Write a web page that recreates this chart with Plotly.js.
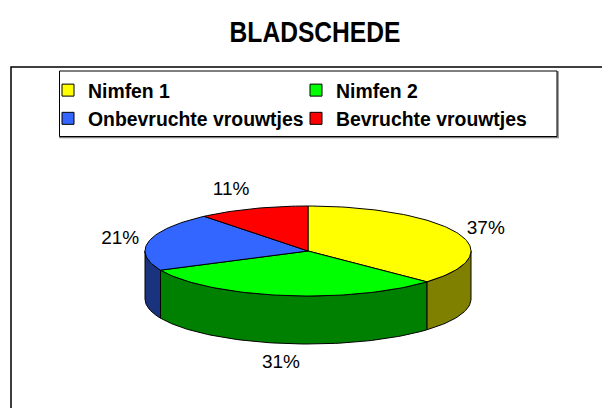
<!DOCTYPE html>
<html><head><meta charset="utf-8">
<script src="https://cdn.plot.ly/plotly-3.0.1.min.js"></script>
<style>
html,body{margin:0;padding:0;background:#fff}
.gtitle{transform-box:fill-box;transform-origin:center;transform:scaleX(0.82);}
</style>
</head><body><div id="chart" style="width:602px;height:408px"></div>
<script>
// ---- data ----
const categories = ['Nimfen 1', 'Nimfen 2', 'Onbevruchte vrouwtjes', 'Bevruchte vrouwtjes'];
const values = [37, 31, 21, 11];
const topColors = ['#FFFF00', '#00FF00', '#3366FF', '#FF0000'];
const sideColors = ['#808000', '#008000', '#1A337F', '#800000'];
const chartTitle = 'BLADSCHEDE';

// ---- geometry (style / layout constants) ----
const CX = 308, CY = 251, RX = 163, RY = 45, DEPTH = 48;
const LBL_GAP = 10;

function arc(a1, a2, dy) {
  const n = Math.max(2, Math.ceil(Math.abs(a2 - a1) / 1.5));
  const xs = [], ys = [];
  for (let k = 0; k <= n; k++) {
    const t = (a1 + (a2 - a1) * k / n) * Math.PI / 180;
    xs.push(CX + RX * Math.cos(t));
    ys.push(CY - RY * Math.sin(t) + dy);
  }
  return [xs, ys];
}

const total = values.reduce((a, b) => a + b, 0);
const sideTraces = [], topTraces = [];
const lx = [], ly = [], ltext = [], lpos = [];
let start = 90;
values.forEach((v, i) => {
  const a1 = start, a2 = start - v / total * 360;
  start = a2;
  // front side wall (visible for angles in [-180, 0])
  const lo = Math.max(a2, -180), hi = Math.min(a1, 0);
  if (lo < hi) {
    const [tx, ty] = arc(hi, lo, 0);
    const [bx, by] = arc(lo, hi, DEPTH);
    sideTraces.push({
      type: 'scatter', mode: 'lines', fill: 'toself',
      x: tx.concat(bx, [tx[0]]), y: ty.concat(by, [ty[0]]),
      fillcolor: sideColors[i], line: {color: '#000', width: 1},
      showlegend: false, hoverinfo: 'skip'
    });
  }
  // top face
  const [ax, ay] = arc(a1, a2, 0);
  topTraces.push({
    type: 'scatter', mode: 'lines', fill: 'toself',
    x: [CX].concat(ax, [CX]), y: [CY].concat(ay, [CY]),
    fillcolor: topColors[i], line: {color: '#000', width: 1},
    showlegend: false, hoverinfo: 'skip'
  });
  // label: anchored just outside the slice edge at its mid-angle
  const m = (a1 + a2) / 2 * Math.PI / 180;
  const c = Math.cos(m), s = Math.sin(m);
  lx.push(CX + RX * c + LBL_GAP * c);
  ly.push(CY - RY * s - LBL_GAP * s + (s < 0 ? DEPTH : 0));
  const vpos = s > 0.5 ? 'top' : (s < -0.5 ? 'bottom' : 'middle');
  const hpos = c > 0.3 ? 'right' : (c < -0.3 ? 'left' : 'center');
  lpos.push(vpos + ' ' + hpos);
  ltext.push(Math.round(v / total * 100) + '%');
});

const labelTrace = {
  type: 'scatter', mode: 'text', x: lx, y: ly, text: ltext,
  textposition: lpos,
  textfont: {family: 'Liberation Sans, Arial, sans-serif', size: 19, color: '#000'},
  showlegend: false, hoverinfo: 'skip'
};

const legendTraces = categories.map((c, i) => ({
  type: 'scatter', mode: 'markers', x: [null], y: [null], name: c,
  marker: {symbol: 'square', size: 12, color: topColors[i], line: {color: '#000', width: 1}},
  showlegend: true, hoverinfo: 'skip'
}));

const layout = {
  width: 602, height: 408,
  margin: {l: 0, r: 0, t: 0, b: 0, pad: 0},
  paper_bgcolor: '#fff', plot_bgcolor: '#fff',
  showlegend: true,
  title: {
    text: chartTitle, x: 315 / 602, xanchor: 'center', xref: 'paper',
    y: 1 - 32 / 408, yanchor: 'middle', yref: 'paper',
    font: {family: 'Liberation Sans, Arial, sans-serif', size: 30, color: '#000', weight: 'bold'}
  },
  xaxis: {range: [0, 602], visible: false, fixedrange: true},
  yaxis: {range: [408, 0], visible: false, fixedrange: true},
  legend: {
    orientation: 'h', xref: 'paper', yref: 'paper',
    x: 48 / 602, y: 1 - 71 / 408, xanchor: 'left', yanchor: 'top',
    bgcolor: 'rgba(0,0,0,0)', borderwidth: 0,
    font: {family: 'Liberation Sans, Arial, sans-serif', size: 19.4, color: '#000', weight: 'bold'},
    entrywidth: 203, traceorder: 'normal'
  },
  shapes: [
    {type: 'rect', xref: 'x', yref: 'y', x0: 11, x1: 650, y0: 67, y1: 460,
     line: {color: '#000', width: 1.5}, layer: 'below'},
    {type: 'rect', xref: 'x', yref: 'y', x0: 60, x1: 558, y0: 72, y1: 137.5,
     line: {color: '#808080', width: 1.5}, layer: 'below'},
    {type: 'rect', xref: 'x', yref: 'y', x0: 59.5, x1: 557, y0: 71, y1: 136.5,
     fillcolor: '#fff', line: {color: '#000', width: 1}, layer: 'below'}
  ]
};

Plotly.newPlot('chart', sideTraces.concat(topTraces, [labelTrace], legendTraces), layout,
  {staticPlot: true, displayModeBar: false});
</script></body></html>
